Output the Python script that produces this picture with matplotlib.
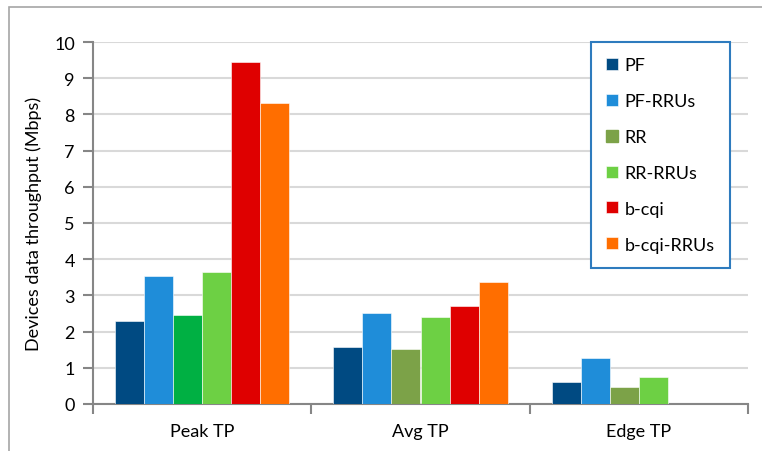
import matplotlib.pyplot as plt
import numpy as np
from matplotlib.patches import Rectangle

plt.rcParams['font.family'] = ['Lato', 'DejaVu Sans']

groups = ['Peak TP', 'Avg TP', 'Edge TP']
series = ['PF', 'PF-RRUs', 'RR', 'RR-RRUs', 'b-cqi', 'b-cqi-RRUs']
pf = [2.29, 1.58, 0.60]
pf_rrus = [3.54, 2.51, 1.27]
rr = [2.46, 1.52, 0.47]
rr_rrus = [3.65, 2.39, 0.74]
bcqi = [9.45, 2.71, 0.0]
bcqi_rrus = [8.31, 3.36, 0.0]
values = [pf, pf_rrus, rr, rr_rrus, bcqi, bcqi_rrus]

colors = ['#004A82', '#1F8DD9', '#7CA248', '#6DD044', '#DF0000', '#FF6E00']
# the RR bar in the first group is drawn in a brighter green
rr_colors = ['#00B043', '#7CA248', '#7CA248']

fig = plt.figure(figsize=(7.62, 4.52), dpi=100)
ax = fig.add_axes([93/762, 1-405/452, (748-93)/762, (405-43)/452])

x = np.arange(len(groups))
w = 0.8 / len(series)
for i, (name, vals) in enumerate(zip(series, values)):
    c = rr_colors if name == 'RR' else colors[i]
    ax.bar(x - 0.4 + w*(i+0.5), vals, w, color=c, label=name,
           edgecolor='white', linewidth=0.4, zorder=3)

ax.set_xlim(-0.5, 2.5)
ax.set_ylim(0, 10)
ax.set_yticks(range(0, 11))
ax.set_xticks(x)
ax.set_xticklabels(groups)
ax.set_xticks([-0.5, 0.5, 1.5, 2.5], minor=True)
ax.tick_params(axis='x', which='major', length=0, pad=14, labelsize=13)
ax.tick_params(axis='x', which='minor', length=7, width=1.5, color='#868686')
ax.tick_params(axis='y', length=7, width=1.5, color='#868686', labelsize=13, pad=6)
ax.grid(axis='y', color='#D9D9D9', linewidth=1.5, zorder=0)
for s in ['top', 'right']:
    ax.spines[s].set_visible(False)
for s in ['left', 'bottom']:
    ax.spines[s].set_color('#868686')
    ax.spines[s].set_linewidth(1.5)
ax.set_ylabel('Devices data throughput (Mbps)', fontsize=13, labelpad=9)

handles, labels = ax.get_legend_handles_labels()
handles[2] = Rectangle((0, 0), 1, 1, color='#7CA248')
leg = ax.legend(handles, labels, loc='upper left', bbox_to_anchor=(591/762, 1-43/452),
                bbox_transform=fig.transFigure, fontsize=13, fancybox=False,
                framealpha=1, edgecolor='#2E7BBE', handlelength=0.65, handleheight=0.65,
                handletextpad=0.35, labelspacing=1.1, borderpad=0.85, borderaxespad=0)
leg.get_frame().set_linewidth(1.5)

fig.patches.append(Rectangle((9/762, -0.1), 1.2, 1.1 - 8/452, transform=fig.transFigure,
                             fill=False, edgecolor='#A6A6A6', linewidth=1.2))

fig.savefig('out.png', dpi=100)
